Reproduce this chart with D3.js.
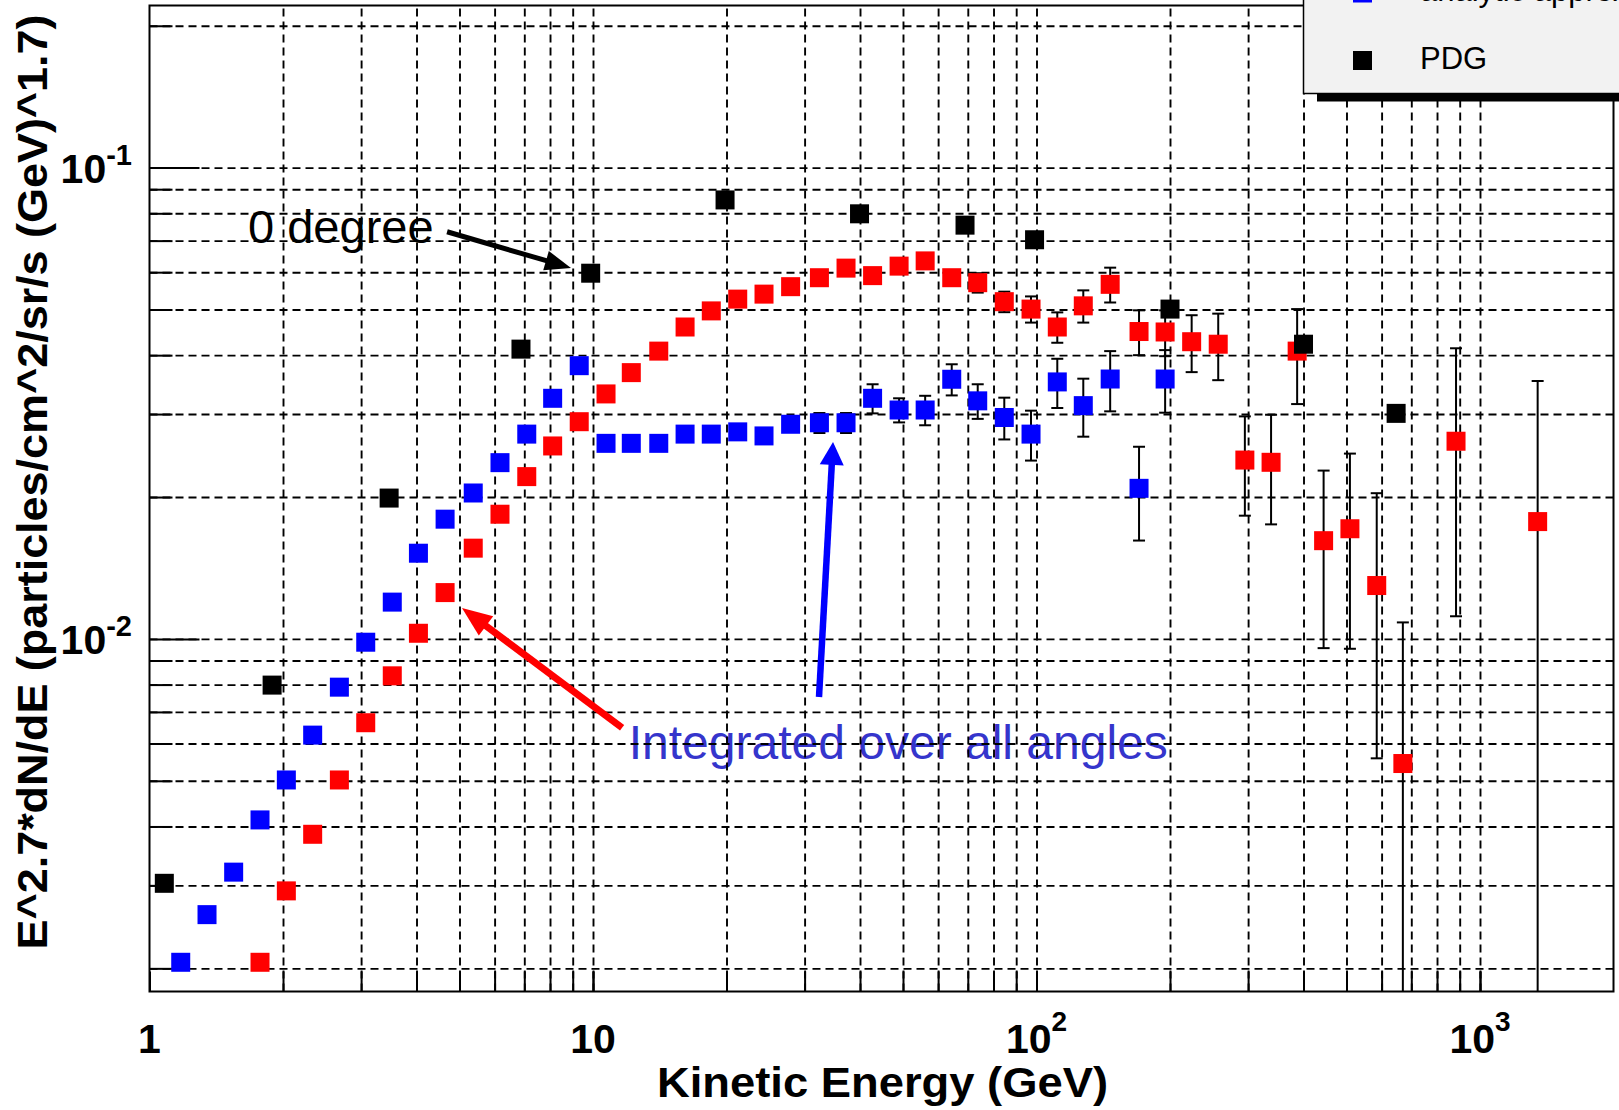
<!DOCTYPE html>
<html>
<head>
<meta charset="utf-8">
<script src="https://cdn.jsdelivr.net/npm/d3@7"></script>
<style>
body { margin: 0; background: #fff; }
text { font-family: "Liberation Sans", Arial, Helvetica, sans-serif; }
</style>
</head>
<body>
<div id="chart"></div>
<script>
// Integrated over all angles (blue)
var blueEnergy = [1.176, 1.348, 1.548, 1.775, 2.035, 2.333, 2.68, 3.073, 3.527, 4.04,
    4.64, 5.37, 6.17, 7.09, 8.11, 9.31, 10.7, 12.2, 14.07, 16.13,
    18.48, 21.2, 24.3, 27.9, 32.4, 37.2, 42.7, 49.0, 56.1, 64.4,
    73.7, 84.6, 97.2, 111.4, 127.5, 146.6, 170.3, 195];
var blueValue = [0.00206, 0.0026, 0.0032, 0.00413, 0.00502, 0.00625, 0.0079, 0.00984, 0.01197, 0.0152,
    0.01795, 0.0204, 0.02366, 0.0272, 0.0324, 0.038, 0.026, 0.026, 0.026, 0.0272,
    0.0272, 0.0275, 0.02696, 0.02854, 0.02875, 0.02875, 0.0324, 0.0306, 0.0306, 0.03556,
    0.032, 0.0295, 0.0272, 0.0351, 0.03126, 0.0356, 0.02087, 0.0356];
var blueError = [0, 0, 0, 0, 0, 0, 0, 0, 0, 0,
    0, 0, 0, 0, 0, 0, 0, 0, 0, 0,
    0, 0, 0, 0, 0.0014, 0.0014, 0.0023, 0.0018, 0.0022, 0.0027,
    0.0027, 0.003, 0.0033, 0.0042, 0.0044, 0.0052, 0.0047, 0.0054];

// 0 degree (red)
var redEnergy = [1.775, 2.035, 2.333, 2.68, 3.073, 3.527, 4.04, 4.64, 5.37, 6.17,
    7.09, 8.11, 9.31, 10.7, 12.2, 14.07, 16.13, 18.48, 21.2, 24.3,
    27.9, 32.4, 37.2, 42.7, 49.0, 56.1, 64.4, 73.7, 84.6, 97.2,
    111.4, 127.5, 146.6, 170.3, 195, 223.8, 256.9, 295, 338, 387,
    444, 509, 585, 670, 883, 1349];
var redValue = [0.00206, 0.00292, 0.00385, 0.00502, 0.00664, 0.00835, 0.01028, 0.01254, 0.01558, 0.01839,
    0.0221, 0.02567, 0.0289, 0.0331, 0.03673, 0.0408, 0.0459, 0.04966, 0.0526, 0.0539,
    0.0559, 0.0584, 0.0612, 0.059, 0.0618, 0.0634, 0.0584, 0.057, 0.05195, 0.0501,
    0.0459, 0.0509, 0.05654, 0.0449, 0.0448, 0.04272, 0.0422, 0.02396, 0.0237, 0.0408,
    0.01616, 0.01713, 0.01298, 0.00544, 0.02627, 0.01774];
var redError = [0, 0, 0, 0, 0, 0, 0, 0, 0, 0,
    0, 0, 0, 0, 0, 0, 0, 0, 0, 0,
    0, 0, 0, 0, 0, 0, 0.002, 0.0027, 0.0026, 0.0032,
    0.0034, 0.004, 0.0048, 0.0049, 0.005, 0.0059, 0.0068, 0.0057, 0.0062, 0.0093,
    0.0066, 0.0076, 0.0074, 0.0054, 0.0151, 0.0175];

// PDG (black)
var pdgEnergy = [1.08, 1.89, 3.47, 6.88, 9.88, 19.85, 39.9, 69, 99, 200, 400, 647];
var pdgValue = [0.00303, 0.00798, 0.0199, 0.0412, 0.0597, 0.0854, 0.0798, 0.0755, 0.0703, 0.0501, 0.0422, 0.0301];

// Tick labels
var xMajor = [1, 10, 100, 1000];
var xLabelBase = ["1", "10", "10", "10"];
var xLabelExp = ["", "", "2", "3"];
var yMajor = [0.01, 0.1];
var yLabelBase = ["10", "10"];
var yLabelExp = ["-2", "-1"];

var legendLabels = ["analytic approximation", "PDG"];
var legendColors = ["#0000ff", "#000000"];

// Set the dimensions of the canvas and the frame
var w = 1619;
var h = 1110;
var frameLeft = 149.5, frameRight = 1613.5, frameTop = 5.5, frameBottom = 991.5;

var svg = d3.select("#chart")
    .append("svg")
    .attr("width", w)
    .attr("height", h)
    .style("background-color", "#fff");

// Create scales
var xScale = d3.scaleLog()
    .domain([1, 2000])
    .range([frameLeft, frameRight]);

var yScale = d3.scaleLog()
    .domain([0.001786, 0.2208])
    .range([frameBottom, frameTop]);

svg.append("clipPath").attr("id", "plot-clip")
    .append("rect")
    .attr("x", frameLeft).attr("y", frameTop)
    .attr("width", frameRight - frameLeft).attr("height", frameBottom - frameTop);

// Annotation texts (drawn below the grid, as in the original)
svg.append("text")
    .attr("x", xScale(1.668))
    .attr("y", yScale(0.0692))
    .attr("font-size", 47)
    .attr("fill", "#000")
    .text("0 degree");

svg.append("text")
    .attr("x", xScale(12.04))
    .attr("y", yScale(0.00556))
    .attr("font-size", 48)
    .attr("fill", "#3535cc")
    .text("Integrated over all angles");

// Dashed grid
var xGrid = xScale.ticks().filter(function (d) { return d > 1 && d < 2000; });
var yGrid = yScale.ticks();

var gx = svg.append("g")
    .attr("transform", "translate(0," + frameBottom + ")")
    .call(d3.axisBottom(xScale).tickValues(xGrid).tickSize(-(frameBottom - frameTop)).tickFormat(""));
var gy = svg.append("g")
    .attr("transform", "translate(" + frameLeft + ",0)")
    .call(d3.axisLeft(yScale).tickValues(yGrid).tickSize(-(frameRight - frameLeft)).tickFormat(""));
[gx, gy].forEach(function (g) {
    g.select(".domain").remove();
    g.selectAll("line")
        .attr("stroke", "#000")
        .attr("stroke-width", 1.9)
        .attr("stroke-dasharray", "8,5");
});

// Axis ticks, inside the frame
var xt = svg.append("g")
    .attr("transform", "translate(0," + frameBottom + ")")
    .call(d3.axisBottom(xScale).tickValues(xGrid.concat(xMajor)).tickSize(-20).tickFormat(""));
var ytMinor = svg.append("g")
    .attr("transform", "translate(" + frameLeft + ",0)")
    .call(d3.axisLeft(yScale).tickValues(yGrid.filter(function (d) { return yMajor.indexOf(d) < 0; }))
        .tickSize(-23).tickFormat(""));
var ytMajor = svg.append("g")
    .attr("transform", "translate(" + frameLeft + ",0)")
    .call(d3.axisLeft(yScale).tickValues(yMajor).tickSize(-50).tickFormat(""));
[xt, ytMinor, ytMajor].forEach(function (g) {
    g.select(".domain").remove();
    g.selectAll("line").attr("stroke", "#000").attr("stroke-width", 2);
});

// Tick labels with superscripts
var xLab = svg.selectAll(".x-label")
    .data(xMajor)
    .enter()
    .append("text")
    .attr("class", "x-label")
    .attr("x", function (d) { return xScale(d); })
    .attr("y", 1053)
    .attr("text-anchor", "middle")
    .attr("font-size", 41)
    .attr("font-weight", "bold");
xLab.append("tspan").text(function (d, i) { return xLabelBase[i]; });
xLab.append("tspan")
    .attr("dy", -22)
    .attr("font-size", 28)
    .text(function (d, i) { return xLabelExp[i]; });

var yLab = svg.selectAll(".y-label")
    .data(yMajor)
    .enter()
    .append("text")
    .attr("class", "y-label")
    .attr("x", 132)
    .attr("y", function (d) { return yScale(d) + 15; })
    .attr("text-anchor", "end")
    .attr("font-size", 41)
    .attr("font-weight", "bold");
yLab.append("tspan").text(function (d, i) { return yLabelBase[i]; });
yLab.append("tspan")
    .attr("dy", -18)
    .attr("font-size", 29)
    .text(function (d, i) { return yLabelExp[i]; });

// Axis titles
svg.append("text")
    .attr("x", 882.5)
    .attr("y", 1097)
    .attr("text-anchor", "middle")
    .attr("font-size", 43)
    .attr("font-weight", "bold")
    .attr("textLength", 451)
    .attr("lengthAdjust", "spacingAndGlyphs")
    .text("Kinetic Energy (GeV)");

svg.append("text")
    .attr("transform", "translate(47,482) rotate(-90)")
    .attr("text-anchor", "middle")
    .attr("font-size", 43)
    .attr("font-weight", "bold")
    .attr("textLength", 935)
    .attr("lengthAdjust", "spacingAndGlyphs")
    .text("E^2.7*dN/dE (particles/cm^2/sr/s (GeV)^1.7)");

// Data layer
var plot = svg.append("g").attr("clip-path", "url(#plot-clip)");
var yMin = yScale.domain()[0];

function drawSeries(energy, value, error, color) {
    var pts = energy.map(function (e, i) {
        return { e: e, v: value[i], err: error ? error[i] : 0 };
    });
    var withErr = pts.filter(function (d) { return d.err > 0; });

    // error bars
    var eb = plot.append("g")
        .attr("stroke", "#000")
        .attr("stroke-width", 2);
    withErr.forEach(function (d) {
        var x = xScale(d.e);
        var lo = d.v - d.err;
        var yLo = lo > yMin ? yScale(lo) : frameBottom + 20;
        var yHi = yScale(d.v + d.err);
        eb.append("line").attr("x1", x).attr("x2", x).attr("y1", yLo).attr("y2", yHi);
        eb.append("line").attr("x1", x - 6).attr("x2", x + 6).attr("y1", yHi).attr("y2", yHi);
        if (lo > yMin) {
            eb.append("line").attr("x1", x - 6).attr("x2", x + 6).attr("y1", yLo).attr("y2", yLo);
        }
    });

    // square markers
    plot.append("g")
        .selectAll("rect")
        .data(pts)
        .enter()
        .append("rect")
        .attr("x", function (d) { return xScale(d.e) - 9.5; })
        .attr("y", function (d) { return yScale(d.v) - 9.5; })
        .attr("width", 19)
        .attr("height", 19)
        .attr("fill", color);
}

drawSeries(blueEnergy, blueValue, blueError, "#0000ff");
drawSeries(redEnergy, redValue, redError, "#ff0000");
drawSeries(pdgEnergy, pdgValue, null, "#000000");

// Arrows
var arrows = [
    { e1: 4.688, v1: 0.0731, e2: 8.92, v2: 0.06127, color: "#000", width: 5, head: 26, half: 10 },
    { e1: 11.63, v1: 0.00648, e2: 5.065, v2: 0.01163, color: "#ff0000", width: 7, head: 30, half: 12 },
    { e1: 32.33, v1: 0.00753, e2: 34.77, v2: 0.02618, color: "#0000ff", width: 6.5, head: 23, half: 12 }
];
arrows.forEach(function (a) {
    var x1 = xScale(a.e1), y1 = yScale(a.v1), x2 = xScale(a.e2), y2 = yScale(a.v2);
    var dx = x2 - x1, dy = y2 - y1, len = Math.sqrt(dx * dx + dy * dy);
    var ux = dx / len, uy = dy / len;
    var bx = x2 - ux * a.head, by = y2 - uy * a.head;
    svg.append("line")
        .attr("x1", x1).attr("y1", y1).attr("x2", bx + ux * 2).attr("y2", by + uy * 2)
        .attr("stroke", a.color)
        .attr("stroke-width", a.width);
    svg.append("polygon")
        .attr("points", [[x2, y2], [bx - uy * a.half, by + ux * a.half], [bx + uy * a.half, by - ux * a.half]]
            .map(function (p) { return p.join(","); }).join(" "))
        .attr("fill", a.color);
});

// Frame
svg.append("rect")
    .attr("x", frameLeft)
    .attr("y", frameTop)
    .attr("width", frameRight - frameLeft)
    .attr("height", frameBottom - frameTop)
    .attr("fill", "none")
    .attr("stroke", "#000")
    .attr("stroke-width", 2);

// Legend (cut by the canvas edge, as in the original)
svg.append("rect")
    .attr("x", 1317).attr("y", 93)
    .attr("width", 400).attr("height", 8.5)
    .attr("fill", "#000");
svg.append("rect")
    .attr("x", 1303.5).attr("y", -20)
    .attr("width", 400).attr("height", 113.5)
    .attr("fill", "#f2f2f2")
    .attr("stroke", "#000")
    .attr("stroke-width", 1.5);

var legendY = [-7, 60.5];
legendLabels.forEach(function (label, i) {
    svg.append("rect")
        .attr("x", 1353).attr("y", legendY[i] - 9.5)
        .attr("width", 19).attr("height", 19)
        .attr("fill", legendColors[i]);
    svg.append("text")
        .attr("x", 1420)
        .attr("y", legendY[i] + 8)
        .attr("font-size", 31)
        .attr("fill", "#000")
        .text(label);
});
</script>
</body>
</html>
